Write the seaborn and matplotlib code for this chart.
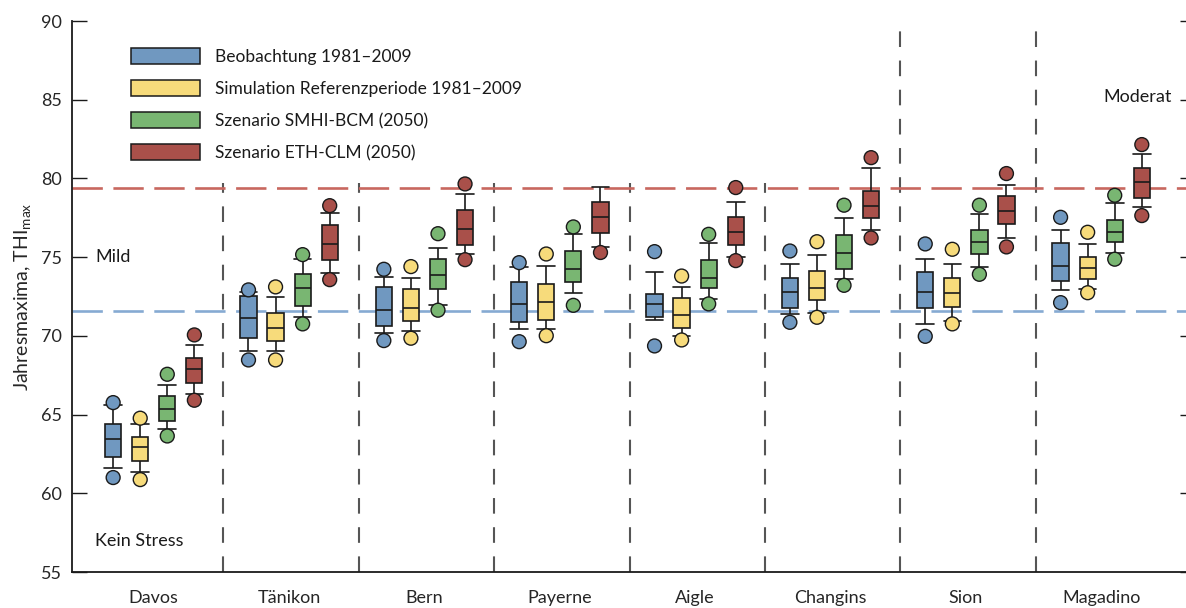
import numpy as np
import pandas as pd
import matplotlib
matplotlib.use("Agg")
import matplotlib.pyplot as plt
from matplotlib.patches import Patch, Rectangle
import seaborn as sns

# Stations (x categories) and scenario series (hue)
stations = ["Davos", "Tänikon", "Bern", "Payerne", "Aigle", "Changins", "Sion", "Magadino"]
series = ["Beobachtung 1981–2009",
          "Simulation Referenzperiode 1981–2009",
          "Szenario SMHI-BCM (2050)",
          "Szenario ETH-CLM (2050)"]
colors = ["#7098c0", "#f7db7b", "#79b672", "#a9504a"]

# Box statistics of the annual THI maxima, one row per series, one column per station
whisker_low = [
    [61.59, 69.04, 70.18, 70.42, 71.01, 71.37, 70.74, 72.90],
    [61.33, 69.04, 70.29, 70.42, 70.01, 71.47, 70.97, 72.96],
    [64.06, 71.22, 71.98, 72.70, 72.34, 73.61, 74.36, 75.29],
    [66.33, 74.02, 75.20, 75.65, 75.01, 76.75, 76.20, 78.21],
]
quartile_1 = [
    [62.33, 69.85, 70.61, 70.86, 71.18, 71.79, 71.75, 73.49],
    [62.05, 69.65, 70.95, 71.03, 70.48, 72.28, 71.82, 73.63],
    [64.60, 71.90, 73.00, 73.40, 73.02, 74.23, 75.20, 75.95],
    [66.99, 74.84, 75.76, 76.51, 75.76, 77.49, 77.09, 78.78],
]
median = [
    [63.45, 71.12, 71.67, 72.00, 72.00, 72.81, 72.81, 74.44],
    [62.96, 70.52, 71.79, 72.17, 71.33, 73.06, 72.71, 74.31],
    [65.36, 73.02, 73.89, 74.23, 73.70, 75.27, 75.98, 76.60],
    [67.88, 75.84, 76.81, 77.53, 76.60, 78.25, 77.95, 79.80],
]
quartile_3 = [
    [64.38, 72.53, 73.13, 73.40, 72.66, 73.70, 74.06, 75.88],
    [63.60, 71.48, 72.96, 73.30, 72.39, 74.10, 73.66, 75.01],
    [66.18, 73.91, 74.90, 75.41, 74.80, 76.39, 76.75, 77.36],
    [68.62, 77.03, 78.00, 78.49, 77.52, 79.19, 78.87, 80.69],
]
whisker_high = [
    [65.61, 72.79, 73.74, 74.36, 74.06, 74.59, 74.89, 76.71],
    [64.40, 72.45, 73.70, 74.44, 73.11, 75.14, 74.57, 75.86],
    [66.90, 74.87, 75.60, 76.47, 75.88, 77.47, 77.77, 78.42],
    [69.44, 77.83, 78.99, 79.44, 78.51, 80.69, 79.61, 81.58],
]
minimum = [
    [61.00, 68.47, 69.70, 69.63, 69.36, 70.86, 69.97, 72.11],
    [60.87, 68.47, 69.85, 70.01, 69.74, 71.18, 70.76, 72.74],
    [63.64, 70.76, 71.63, 71.94, 72.03, 73.21, 73.91, 74.87],
    [65.91, 73.57, 74.84, 75.35, 74.78, 76.22, 75.65, 77.64],
]
maximum = [
    [65.76, 72.92, 74.23, 74.65, 75.35, 75.39, 75.84, 77.53],
    [64.77, 73.11, 74.40, 75.20, 73.80, 75.98, 75.50, 76.58],
    [67.56, 75.16, 76.49, 76.92, 76.45, 78.30, 78.30, 78.93],
    [70.06, 78.27, 79.65, np.nan, 79.42, 81.32, 80.31, 82.15],
]

# Stress thresholds
threshold_mild = 71.55
threshold_moderat = 79.37

# Long-form tables: the five-number summary per box, and the extreme years
box_rows, pt_rows = [], []
for s, name in enumerate(series):
    for i, st in enumerate(stations):
        for v in (whisker_low[s][i], quartile_1[s][i], median[s][i],
                  quartile_3[s][i], whisker_high[s][i]):
            box_rows.append((st, name, v))
        for v in (minimum[s][i], maximum[s][i]):
            if not np.isnan(v):
                pt_rows.append((st, name, v))
box_df = pd.DataFrame(box_rows, columns=["Station", "Reihe", "THI"])
pt_df = pd.DataFrame(pt_rows, columns=["Station", "Reihe", "THI"])

sns.set_theme(style="white")
plt.rcParams["font.family"] = ["Lato", "DejaVu Sans"]
plt.rcParams["mathtext.default"] = "regular"

W, H = 1186, 608
fig = plt.figure(figsize=(W / 100, H / 100), dpi=100)
ax = fig.add_axes([72 / W, (H - 572) / H, (1195 - 72) / W, (572 - 21) / H])

palette = dict(zip(series, colors))
ink = "#1a1a1a"

# Station separators
for k in range(len(stations) - 1):
    ax.axvline(k + 0.515, color="#555555", lw=1.5, dashes=(7.5, 6.5), zorder=1)

# Threshold lines
ax.axhline(threshold_moderat, color="#c8675f", lw=1.9, dashes=(11.5, 4), zorder=1.2)
ax.axhline(threshold_mild, color="#86aad2", lw=1.9, dashes=(11.5, 4), zorder=1.2)

# White area behind the legend (given in pixels, converted to axes fractions)
inv = ax.transAxes.inverted()
(x0, y0) = inv.transform((95, H - 183))
(x1, y1) = inv.transform((800, H - 28))
ax.add_patch(Rectangle((x0, y0), x1 - x0, y1 - y0, transform=ax.transAxes,
                       facecolor="white", edgecolor="none", zorder=1.5))

sns.boxplot(data=box_df, x="Station", y="THI", hue="Reihe", order=stations,
            hue_order=series, palette=palette, width=0.8, gap=0.4,
            whis=(0, 100), showfliers=False, linecolor=ink, linewidth=1.2,
            saturation=1, legend=False, capwidths=0.13, ax=ax,
            boxprops={"zorder": 3}, medianprops={"zorder": 3.1},
            whiskerprops={"zorder": 2.9}, capprops={"zorder": 2.9})

sns.stripplot(data=pt_df, x="Station", y="THI", hue="Reihe", order=stations,
              hue_order=series, palette=palette, dodge=True, jitter=False,
              size=10, edgecolor=ink, linewidth=1.0, legend=False,
              zorder=4, ax=ax)

ax.set_xlim(-0.604, 7.693)
ax.set_ylim(55, 90)
ax.set_yticks([55, 60, 65, 70, 75, 80, 85, 90])
ax.set_xlabel("")
ax.set_ylabel("Jahresmaxima, THI$_{max}$", fontsize=14, labelpad=6)

for side in ("top", "right"):
    ax.spines[side].set_visible(False)
for side in ("left", "bottom"):
    ax.spines[side].set_color(ink)
    ax.spines[side].set_linewidth(1.3)

ax.tick_params(axis="y", which="both", direction="in", length=11, width=1,
               color=ink, labelsize=13, pad=7, left=True, right=True,
               labelright=False)
ax.tick_params(axis="x", length=0, labelsize=13, pad=13)

# Stress class labels
ax.text(-0.434, 75.0, "Mild", fontsize=13, ha="left", va="center", color=ink)
ax.text(-0.434, 57.0, "Kein Stress", fontsize=13, ha="left", va="center", color=ink)
ax.text(7.523, 85.2, "Moderat", fontsize=13, ha="right", va="center", color=ink)

handles = [Patch(facecolor=c, edgecolor=ink, linewidth=1.1) for c in colors]
leg = ax.legend(handles, series, loc="upper left", bbox_to_anchor=(0.046, 0.963),
                frameon=False, fontsize=12.5, handlelength=4.0, handleheight=1.0,
                labelspacing=0.88, handletextpad=0.85, borderaxespad=0)
leg.set_zorder(5)
for t in leg.get_texts():
    t.set_color(ink)

fig.savefig("out.png", dpi=100)
